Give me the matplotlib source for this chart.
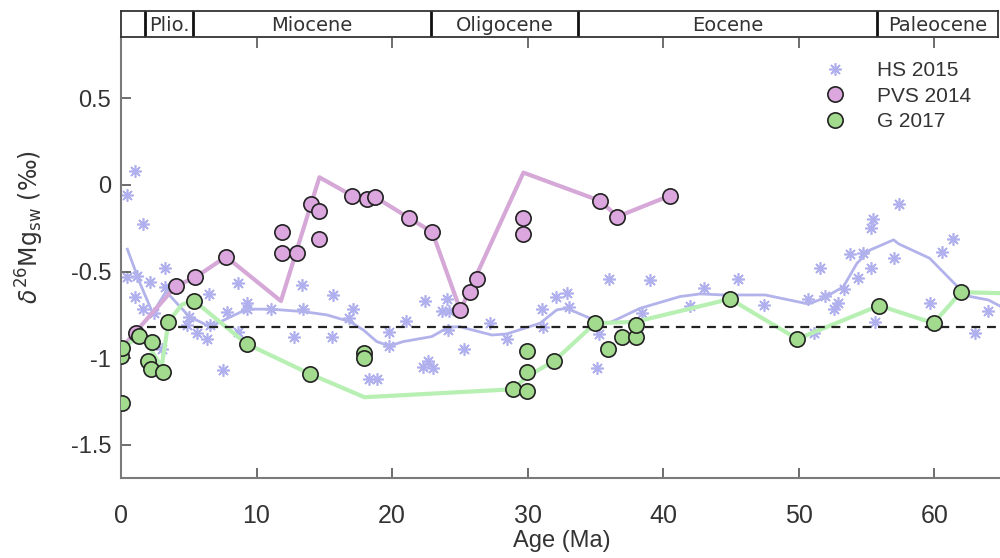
import numpy as np
import matplotlib
matplotlib.use("Agg")
import matplotlib.pyplot as plt
from matplotlib import font_manager

# HS 2015 scatter (asterisks)
hs_age=[1.03,0.47,1.65,0.47,1.2,2.14,3.25,3.25,1.03,1.65,2.4,3.05,5.04,5.63,6.37,6.49,4.9,6.57,
        7.85,8.66,8.66,9.28,9.28,7.5,11.07,12.79,13.33,13.46,15.55,15.62,16.83,17.15,19.8,19.8,
        18.33,18.87,21.05,22.44,23.67,24.04,24.23,24.16,25.31,22.68,22.26,23.0,27.23,28.51,31.05,
        31.12,32.08,32.94,33.09,35.23,35.1,36.01,39.04,38.43,41.97,43.03,45.51,47.45,50.65,51.1,
        51.59,51.96,52.57,52.87,53.36,53.8,54.34,54.74,55.35,55.33,55.47,55.6,57.05,57.37,59.7,
        60.57,61.38,63.03,64.0]
hs_val=[0.081,-0.058,-0.225,-0.529,-0.525,-0.558,-0.481,-0.587,-0.644,-0.717,-0.74,-0.948,-0.76,
        -0.856,-0.89,-0.629,-0.808,-0.808,-0.731,-0.846,-0.564,-0.679,-0.717,-1.067,-0.717,-0.879,
        -0.577,-0.717,-0.879,-0.635,-0.769,-0.717,-0.846,-0.929,-1.121,-1.121,-0.786,-0.668,-0.727,
        -0.66,-0.727,-0.837,-0.948,-1.016,-1.048,-1.058,-0.794,-0.89,-0.716,-0.817,-0.648,-0.625,
        -0.702,-0.86,-1.058,-0.544,-0.548,-0.737,-0.698,-0.596,-0.544,-0.692,-0.66,-0.852,-0.481,
        -0.641,-0.717,-0.679,-0.602,-0.398,-0.538,-0.39,-0.481,-0.25,-0.198,-0.789,-0.423,-0.11,
        -0.683,-0.385,-0.313,-0.856,-0.725]
# HS 2015 smoothed curve
hs_line_age=[0.47,1.4,2.34,3.32,5.04,6.57,9.28,11.07,13.46,15.18,16.9,17.88,18.87,19.8,20.83,
             22.93,24.16,25.0,27.36,28.46,30.92,32.15,32.89,34.6,35.6,36.09,38.3,41.25,42.73,
             44.45,47.53,50.72,51.83,53.3,54.3,55.28,57.0,57.37,59.66,61.67,62.66,64.0,65.0]
hs_line_val=[-0.371,-0.567,-0.74,-0.615,-0.76,-0.818,-0.717,-0.717,-0.731,-0.75,-0.789,-0.837,
             -0.904,-0.929,-0.904,-0.875,-0.821,-0.818,-0.866,-0.86,-0.798,-0.721,-0.712,-0.769,
             -0.802,-0.794,-0.712,-0.644,-0.629,-0.635,-0.635,-0.687,-0.654,-0.587,-0.452,-0.375,
             -0.317,-0.34,-0.423,-0.583,-0.644,-0.664,-0.705]

# PVS 2014
pvs_age=[1.1,4.06,5.49,7.75,11.86,11.86,12.96,14.05,14.64,14.64,17.07,18.13,18.77,21.28,22.97,
         25.04,25.76,26.25,29.69,29.69,35.35,36.63,40.47]
pvs_val=[-0.852,-0.583,-0.533,-0.414,-0.273,-0.39,-0.39,-0.111,-0.152,-0.313,-0.063,-0.083,-0.071,
         -0.192,-0.273,-0.723,-0.619,-0.542,-0.192,-0.283,-0.092,-0.183,-0.063]
pvs_line_age=[0.5,4.06,5.49,7.75,11.8,14.64,17.07,18.77,21.28,22.97,25.04,29.69,35.35,36.63,40.47]
pvs_line_val=[-0.9,-0.583,-0.533,-0.414,-0.67,0.044,-0.063,-0.071,-0.192,-0.273,-0.723,0.071,
              -0.092,-0.183,-0.063]

# G 2017
g_age=[-0.02,0.07,0.07,1.35,1.97,2.19,2.26,3.07,3.49,5.39,9.27,13.95,17.96,17.96,28.95,29.94,
       29.94,29.94,31.96,34.98,35.96,36.95,37.96,37.96,44.94,49.9,55.94,59.95,61.97]
g_val=[-0.987,-0.939,-1.26,-0.87,-1.016,-1.064,-0.908,-1.077,-0.789,-0.668,-0.917,-1.091,-0.967,
       -1.0,-1.179,-1.189,-1.077,-0.958,-1.016,-0.798,-0.948,-0.879,-0.879,-0.808,-0.658,-0.889,
       -0.696,-0.798,-0.619]
g_line_age=[0.0,1.35,2.2,3.0,3.5,4.5,5.39,9.27,13.95,17.96,28.95,29.94,31.96,34.98,37.96,44.94,
            49.9,55.94,59.95,61.97,65.0]
g_line_val=[-0.95,-0.87,-0.95,-1.05,-0.79,-0.69,-0.668,-0.917,-1.091,-1.225,-1.179,-1.106,-1.016,
            -0.798,-0.79,-0.658,-0.889,-0.696,-0.798,-0.619,-0.625]

ref_level=-0.82
epoch_bounds=[0,1.8,5.33,23.0,33.9,56.0,65.0]
epoch_names=["","Plio.","Miocene","Oligocene","Eocene","Paleocene"]

# pick a condensed face for the x axis if one is installed
narrow=None
for f in ["Liberation Sans Narrow","DejaVu Sans Condensed"]:
    try:
        font_manager.findfont(f,fallback_to_default=False)
        narrow=f
        break
    except Exception:
        pass
if narrow:
    xtick_font=dict(family=narrow,size=19)
    xlab_font=dict(family=narrow,size=19)
else:
    xtick_font=dict(family="Liberation Sans",size=18)
    xlab_font=dict(family="Liberation Sans",size=17)

fig=plt.figure(figsize=(10,5.58),dpi=100)
ax=fig.add_axes([0.121,0.1434,0.881,0.7886])
top=fig.add_axes([0.121,0.9337,0.877,0.047])

ax.plot(hs_line_age,hs_line_val,color="#b3b3ec",lw=2,zorder=2)
ax.plot(pvs_line_age,pvs_line_val,color="#d6a8d8",lw=3,zorder=2)
ax.plot(g_line_age,g_line_val,color="#b8f0b4",lw=3,zorder=2)
ax.plot(hs_age,hs_val,ls="none",marker=(8,2,0),ms=9,mec="#b0b0ee",mew=1.2,zorder=1,label="HS 2015")
ax.plot([1.9,65],[ref_level,ref_level],ls=(0,(4,3)),color="#222222",lw=1.6,zorder=3)
ax.plot(pvs_age,pvs_val,ls="none",marker="o",ms=11,mfc="#dca6de",mec="#222222",mew=1.2,zorder=4,label="PVS 2014")
ax.plot(g_age,g_val,ls="none",marker="o",ms=11,mfc="#a2da8e",mec="#222222",mew=1.2,zorder=4,label="G 2017")

ax.set_xlim(0,65)
ax.set_ylim(-1.691,0.848)
ax.set_yticks([0.5,0,-0.5,-1,-1.5])
ax.set_yticklabels(["0.5","0","-0.5","-1","-1.5"],fontsize=17,family="Liberation Sans",color="#333333")
ax.set_xticks(range(0,61,10))
ax.set_xticklabels([str(v) for v in range(0,61,10)],color="#333333",**xtick_font)
ax.tick_params(axis="both",direction="in",length=7,width=1.2,color="#555555")
ax.tick_params(axis="x",pad=19,top=True)
ax.tick_params(axis="y",pad=7)
for s in ["top","right"]:
    ax.spines[s].set_visible(False)
for s in ["left","bottom"]:
    ax.spines[s].set_color("#7a7a7a")
    ax.spines[s].set_linewidth(1.5)

ax.set_xlabel("Age (Ma)",color="#333333",labelpad=1,**xlab_font)
ax.set_ylabel(r"$\delta^{26}\mathrm{Mg}_{\mathrm{sw}}$ (‰)",fontsize=17,color="#333333")
ax.yaxis.set_label_coords(-0.085,0.57)

leg=ax.legend(loc="upper left",bbox_to_anchor=(0.775,0.99),frameon=False,
              handlelength=1.2,handletextpad=1.4,labelspacing=0.32,
              prop={"family":"Liberation Sans","size":15})
for t in leg.get_texts():
    t.set_color("#333333")

# epoch bar
top.set_xlim(0,65)
top.set_ylim(0,1)
top.set_xticks([])
top.set_yticks([])
for s in top.spines.values():
    s.set_color("#333333")
    s.set_linewidth(1.3)
for b in epoch_bounds[1:-1]:
    top.axvline(b,color="#111111",lw=2)
for i,name in enumerate(epoch_names):
    mid=(epoch_bounds[i]+epoch_bounds[i+1])/2
    top.text(mid,0.45,name,ha="center",va="center",fontsize=14,family="DejaVu Sans",color="#333333")

fig.savefig("out.png",dpi=100)
